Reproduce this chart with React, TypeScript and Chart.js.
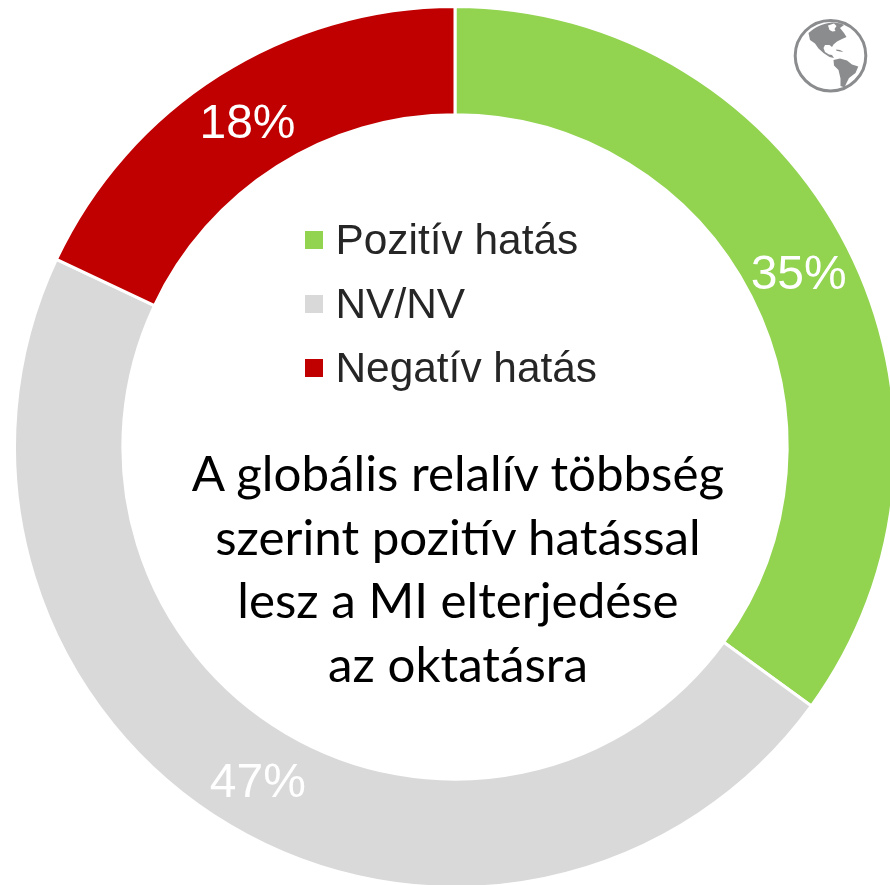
import React, { useEffect, useRef } from "react";
import { Chart, registerables } from "chart.js";

Chart.register(...registerables);

const categories = ["Pozitív hatás", "NV/NV", "Negatív hatás"];
const values = [35, 47, 18];
const colors = ["#92D350", "#D9D9D9", "#C00000"];
const captionLines = [
  "A globális relalív többség",
  "szerint pozitív hatással",
  "lesz a MI elterjedése",
  "az oktatásra",
];

const percentLabels = {
  id: "percentLabels",
  afterDatasetsDraw(chart: any) {
    const { ctx } = chart;
    const meta = chart.getDatasetMeta(0);
    ctx.save();
    ctx.font = '48px "Liberation Sans"';
    ctx.fillStyle = "#ffffff";
    ctx.textAlign = "center";
    ctx.textBaseline = "middle";
    meta.data.forEach((arc: any, i: number) => {
      const p = arc.getCenterPoint();
      ctx.fillText(values[i] + "%", p.x - 0.5, p.y + 4);
    });
    ctx.restore();
  },
};

function Globe() {
  const grey = "#8A8C8E";
  return (
    <svg
      width={80}
      height={80}
      viewBox="0 0 80 80"
      style={{ position: "absolute", left: 790, top: 15 }}
    >
      <circle cx={40.5} cy={40.7} r={35.3} fill="#fff" stroke={grey} strokeWidth={3} />
      {/* North and Central America */}
      <path
        fill={grey}
        d="M18.5 18 C24 13 33 8 42 7.5 C47 7.5 52 8.5 54 10 L50 13 L54 18 L56.5 22 L52 24 L47 26.5 L43.5 29.5 L42 32 L39.5 30 L35 30 L33.5 33 L35 37 L39 39.5 L42 40 L44 43 L39.5 42 L33.5 38 L28.5 33.5 L25 28.5 L20 25 Z"
      />
      {/* Hudson Bay */}
      <path
        fill="#fff"
        d="M38 10.5 L44 8.5 L46.5 11 L44.5 14 L45.5 16 L42.5 16.5 L39.5 15 Z"
      />
      {/* Caribbean */}
      <path fill={grey} d="M46 34.5 L50 35 L53.5 37 L50 36.5 L46.5 35.8 Z" />
      {/* South America */}
      <path
        fill={grey}
        d="M43.5 45 L50 43.5 L57 45.5 L62 49.5 L68.3 51.5 L65.5 58 L59 63 L56.5 68 L54.5 72.5 L50.5 71 L50.5 63.5 L48.5 55 L44 50.5 Z"
      />
    </svg>
  );
}

export default function App() {
  const ref = useRef<HTMLCanvasElement>(null);
  useEffect(() => {
    const chart = new Chart(ref.current!, {
      type: "doughnut",
      data: {
        labels: categories,
        datasets: [
          {
            data: values,
            backgroundColor: colors,
            borderColor: "#ffffff",
            borderWidth: 3,
          },
        ],
      },
      options: {
        responsive: false,
        animation: false,
        cutout: "75.4%",
        layout: { padding: { top: 5, bottom: 5, left: 13, right: 13 } },
        plugins: { legend: { display: false }, tooltip: { enabled: false } },
      },
      plugins: [percentLabels],
    });
    return () => chart.destroy();
  }, []);

  return (
    <div
      style={{
        position: "fixed",
        left: 0,
        top: 0,
        width: 890,
        height: 885,
        overflow: "hidden",
        background: "#fff",
      }}
    >
      <canvas
        ref={ref}
        width={910}
        height={894}
        style={{ position: "absolute", left: 0, top: 0, width: 910, height: 894 }}
      />
      <Globe />
      {categories.map((c, i) => (
        <React.Fragment key={c}>
          <div
            style={{
              position: "absolute",
              left: 305,
              top: 231 + i * 64,
              width: 18,
              height: 18,
              background: colors[i],
            }}
          />
          <div
            style={{
              position: "absolute",
              left: 335.5,
              top: 216 + i * 64,
              font: '42.4px/48px "Liberation Sans"',
              color: "#262626",
              whiteSpace: "nowrap",
            }}
          >
            {c}
          </div>
        </React.Fragment>
      ))}
      {captionLines.map((l, i) => (
        <div
          key={l}
          style={{
            position: "absolute",
            left: 158,
            width: 600,
            top: 442 + i * 63.6,
            textAlign: "center",
            font: '49.3px/60px Lato',
            color: "#000",
            whiteSpace: "nowrap",
          }}
        >
          {l}
        </div>
      ))}
    </div>
  );
}
